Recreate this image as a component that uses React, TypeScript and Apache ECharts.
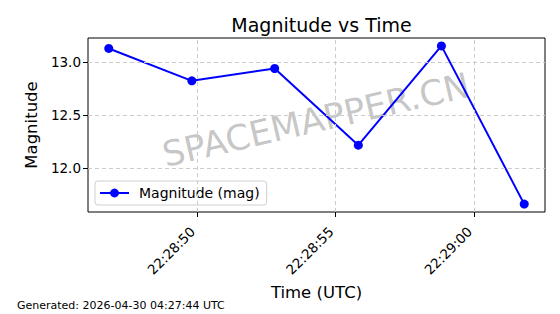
import React, { useEffect, useRef } from "react";
import * as echarts from "echarts";

const timeLabels = ["22:28:46.82", "22:28:49.82", "22:28:52.81", "22:28:55.83", "22:28:58.83", "22:29:01.82"];
const magnitudes = [13.126, 12.822, 12.938, 12.218, 13.15, 11.665];
const xTickLabels = ["22:28:50", "22:28:55", "22:29:00"];
const yTickValues = [12.0, 12.5, 13.0];
const seriesName = "Magnitude (mag)";
const titleText = "Magnitude vs Time";
const xAxisName = "Time (UTC)";
const yAxisName = "Magnitude";
const footerText = "Generated: 2026-04-30 04:27:44 UTC";
const watermarkText = "SPACEMAPPER.CN";

const FONT = "DejaVu Sans";

function parseTime(s: string): number {
  const [h, m, sec] = s.split(":");
  return Number(h) * 3600 + Number(m) * 60 + Number(sec);
}

function fmtTime(v: number): string {
  const t = Math.round(v);
  const h = Math.floor(t / 3600);
  const m = Math.floor((t % 3600) / 60);
  const s = t % 60;
  const p = (n: number) => String(n).padStart(2, "0");
  return `${p(h)}:${p(m)}:${p(s)}`;
}

export default function App() {
  const ref = useRef<HTMLDivElement>(null);
  useEffect(() => {
    if (!ref.current) return;
    const chart = echarts.init(ref.current, null, { renderer: "svg" });
    const xs = timeLabels.map(parseTime);
    const xTicks = xTickLabels.map(parseTime);
    const xMinD = Math.min(...xs), xMaxD = Math.max(...xs);
    const yMinD = Math.min(...magnitudes), yMaxD = Math.max(...magnitudes);
    const xPad = (xMaxD - xMinD) * 0.05;
    const yPad = (yMaxD - yMinD) * 0.05;
    const data = xs.map((x, i) => [x, magnitudes[i]]);
    const gridStyle = { color: "#cccccc", type: [4, 3], width: 1 };

    chart.setOption({
      animation: false,
      backgroundColor: "#ffffff",
      title: {
        text: titleText,
        left: 316.5,
        top: 10,
        textAlign: "center",
        textStyle: { fontFamily: FONT, fontSize: 19, fontWeight: "normal", color: "#000" },
      },
      grid: {
        show: true,
        z: 1,
        left: 88,
        right: 15,
        top: 38,
        bottom: 102,
        borderColor: "#000",
        borderWidth: 1,
        backgroundColor: "transparent",
      },
      legend: {
        left: 95,
        top: 181,
        itemWidth: 29,
        itemHeight: 11,
        padding: [5, 7, 5, 4],
        backgroundColor: "rgba(255,255,255,0.8)",
        borderColor: "#d0d0d0",
        borderWidth: 1,
        borderRadius: 3,
        textStyle: { fontFamily: FONT, fontSize: 14, color: "#000", padding: [0, 0, 0, 5] },
        data: [seriesName],
        z: 5,
      },
      xAxis: {
        type: "value",
        min: xMinD - xPad,
        max: xMaxD + xPad,
        name: xAxisName,
        nameLocation: "middle",
        nameGap: 71,
        nameTextStyle: { fontFamily: FONT, fontSize: 16.5, color: "#000" },
        axisLine: { show: false },
        axisTick: { show: true, customValues: xTicks, length: 5, lineStyle: { color: "#000", width: 1 } },
        axisLabel: {
          customValues: xTicks,
          rotate: 45,
          margin: 13,
          padding: [0, 6, 0, 0],
          fontFamily: FONT,
          fontSize: 13.5,
          color: "#000",
          formatter: (v: number) => fmtTime(v),
        },
        splitLine: { show: false },
      },
      yAxis: {
        type: "value",
        min: yMinD - yPad,
        max: yMaxD + yPad,
        name: yAxisName,
        nameLocation: "middle",
        nameGap: 47,
        nameTextStyle: { fontFamily: FONT, fontSize: 16.5, color: "#000" },
        axisLine: { show: false },
        axisTick: { show: true, customValues: yTickValues, length: 5, lineStyle: { color: "#000", width: 1 } },
        axisLabel: {
          customValues: yTickValues,
          margin: 7,
          fontFamily: FONT,
          fontSize: 13.5,
          color: "#000",
          formatter: (v: number) => v.toFixed(1),
        },
        splitLine: { show: false },
      },
      graphic: [
        {
          type: "text",
          x: 316,
          y: 120,
          rotation: (13 * Math.PI) / 180,
          z: 1,
          silent: true,
          style: {
            text: watermarkText,
            fill: "rgba(128,128,128,0.45)",
            font: `35px '${FONT}'`,
            textAlign: "center",
            textVerticalAlign: "middle",
          },
        },
        {
          type: "text",
          x: 17,
          y: 305,
          z: 1,
          style: {
            text: footerText,
            fill: "#000",
            font: `11px '${FONT}'`,
            textAlign: "left",
            textVerticalAlign: "middle",
          },
        },
      ],
      series: [
        {
          name: "grid",
          type: "line",
          data,
          z: 0,
          silent: true,
          showSymbol: false,
          symbol: "none",
          lineStyle: { opacity: 0, width: 0 },
          markLine: {
            silent: true,
            symbol: ["none", "none"],
            label: { show: false },
            lineStyle: gridStyle,
            emphasis: { disabled: true },
            data: [
              ...xTicks.map((v) => ({ xAxis: v })),
              ...yTickValues.map((v) => ({ yAxis: v })),
            ],
          },
        },
        {
          name: seriesName,
          type: "line",
          data,
          symbol: "circle",
          symbolSize: 9,
          z: 3,
          lineStyle: { color: "#0000ff", width: 2 },
          itemStyle: { color: "#0000ff" },
        },
      ],
    });
    return () => chart.dispose();
  }, []);
  return (
    <div
      ref={ref}
      style={{ position: "fixed", left: 0, top: 0, width: 560, height: 314 }}
    />
  );
}
